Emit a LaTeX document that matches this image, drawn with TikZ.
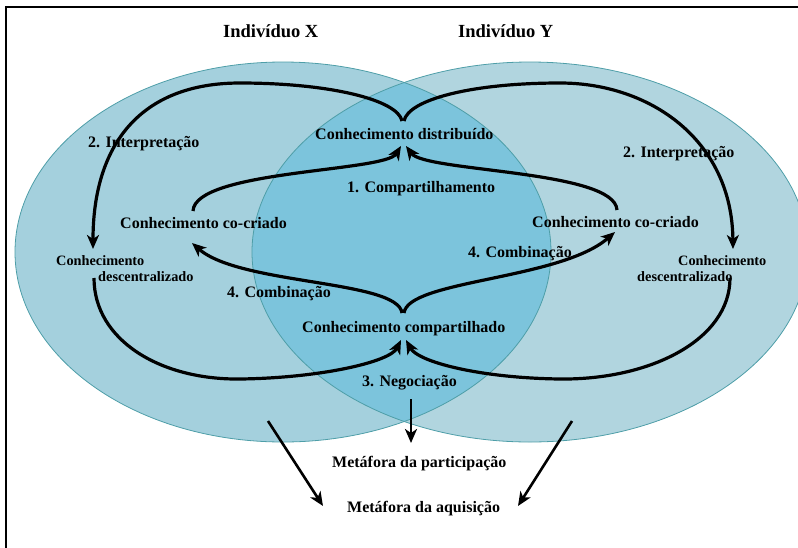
\documentclass[tikz,border=0pt]{standalone}
\usepackage{fontspec}
\setmainfont{Liberation Serif}
\usetikzlibrary{arrows.meta}
\definecolor{ellX}{RGB}{164,208,221}
\definecolor{ellY}{RGB}{177,213,223}
\definecolor{ellXY}{RGB}{124,196,220}
\definecolor{ellEdge}{RGB}{78,158,168}
\begin{document}
\begin{tikzpicture}[x=1pt,y=-1pt,
  head/.style={font=\fontsize{18.5}{22}\selectfont\bfseries, anchor=base west, inner sep=0pt},
  lbl/.style={font=\fontsize{16}{19}\selectfont\bfseries, anchor=base west, inner sep=0pt},
  smalllbl/.style={font=\fontsize{14.3}{16}\selectfont\bfseries, anchor=base west, inner sep=0pt},
  flow/.style={line width=3.2pt, -{Stealth[length=14pt,width=12pt,inset=4pt]}},
  straightflow/.style={line width=2.6pt, -{Stealth[length=14pt,width=12pt,inset=4pt]}},
  ellipseedge/.style={draw=ellEdge, line width=0.8pt}]
\useasboundingbox (0,0) rectangle (798,547);
\clip (0,0) rectangle (798,547);

% the two individuals and their overlap
\fill[ellX] (283,252) ellipse [x radius=268, y radius=190];
\fill[ellY] (530,252) ellipse [x radius=278, y radius=190];
\begin{scope}
  \clip (283,252) ellipse [x radius=268, y radius=190];
  \fill[ellXY] (530,252) ellipse [x radius=278, y radius=190];
\end{scope}
\draw[ellipseedge] (283,252) ellipse [x radius=268, y radius=190];
\draw[ellipseedge] (530,252) ellipse [x radius=278, y radius=190];

% frame
\draw[line width=1.8pt] (6,560) -- (6,7) -- (810,7);

% labels
\node[head] (indx) at (223,37) {Indivíduo X};
\node[head] (indy) at (458,37) {Indivíduo Y};
\node[lbl] (dist) at (315,139) {Conhecimento distribuído};
\node[lbl] (comp1) at (347,192) {1. Compartilhamento};
\node[lbl] (cocl) at (120,228) {Conhecimento co-criado};
\node[lbl] (cocr) at (532,227) {Conhecimento co-criado};
\node[lbl] (intl) at (88,147) {2. Interpretação};
\node[lbl] (intr) at (623,157) {2. Interpretação};
\node[smalllbl] (decl1) at (56,265) {Conhecimento};
\node[smalllbl] (decl2) at (98,281) {descentralizado};
\node[smalllbl] (decr1) at (678,265) {Conhecimento};
\node[smalllbl] (decr2) at (637,281) {descentralizado};
\node[lbl] (combl) at (227,297) {4. Combinação};
\node[lbl] (combr) at (468,257) {4. Combinação};
\node[lbl] (shared) at (302,332) {Conhecimento compartilhado};
\node[lbl] (neg) at (362,386) {3. Negociação};
\node[lbl] (part) at (332,467) {Metáfora da participação};
\node[lbl] (aqui) at (347,512) {Metáfora da aquisição};

% connector end points
\coordinate (dtopl) at (402,121);
\coordinate (dtopr) at (404,121);
\coordinate (dbotl) at (401,146);
\coordinate (dbotr) at (406,146);
\coordinate (stopl) at (402,313);
\coordinate (stopr) at (404,313);
\coordinate (sbotl) at (401,340);
\coordinate (sbotr) at (406,340);
\coordinate (declin) at (93,249);
\coordinate (decrin) at (733,249);
\coordinate (declout) at (94,278);
\coordinate (decrout) at (730,278);
\coordinate (coclout) at (193,211);
\coordinate (cocrout) at (617,210);
\coordinate (coclin) at (192,243);
\coordinate (cocrin) at (615,232);
\coordinate (negout) at (411,399);
\coordinate (partin) at (411,443);
\coordinate (xout) at (268,421);
\coordinate (aquil) at (323,506);
\coordinate (yout) at (572,421);
\coordinate (aquir) at (518,506);

% 2. Interpretação
\draw[flow] (dtopl) .. controls (398,100) and (330,83) .. (240,83)
  .. controls (140,83) and (93,145) .. (declin);
\draw[flow] (dtopr) .. controls (408,100) and (470,83) .. (560,83)
  .. controls (650,83) and (732,140) .. (decrin);

% 1. Compartilhamento
\draw[flow] (coclout) .. controls (195,170) and (385,172) .. (dbotl);
\draw[flow] (cocrout) .. controls (615,170) and (425,172) .. (dbotr);

% 4. Combinação
\draw[flow] (stopl) .. controls (398,280) and (240,285) .. (coclin);
\draw[flow] (stopr) .. controls (408,280) and (560,280) .. (cocrin);

% 3. Negociação
\draw[flow] (declout) .. controls (94,340) and (160,380) .. (240,379)
  .. controls (320,378) and (390,362) .. (sbotl);
\draw[flow] (decrout) .. controls (730,340) and (650,380) .. (560,379)
  .. controls (480,378) and (418,362) .. (sbotr);

% metaphors
\draw[straightflow] (negout) -- (partin);
\draw[straightflow] (xout) -- (aquil);
\draw[straightflow] (yout) -- (aquir);
\end{tikzpicture}
\end{document}
